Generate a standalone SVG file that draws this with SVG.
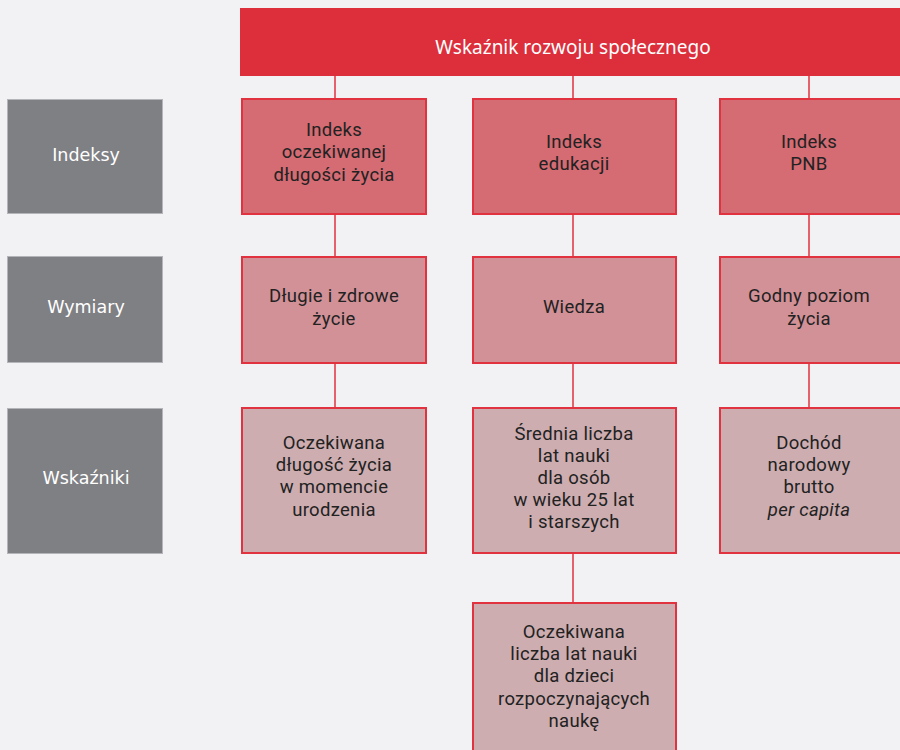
<svg xmlns="http://www.w3.org/2000/svg" width="900" height="750" viewBox="0 0 900 750">
<style>
.bg{fill:#f2f2f4}
.cat rect{fill:#7f8084;stroke:#b4b5b8;stroke-width:1}
.cat text{fill:#ffffff;font-family:"DejaVu Sans",Verdana,sans-serif;font-size:17.5px;text-anchor:middle}
.r1 rect{fill:#d56b73;stroke:#e0323f;stroke-width:2}
.r2 rect{fill:#d29197;stroke:#e0323f;stroke-width:2}
.r3 rect{fill:#cdadb0;stroke:#e0323f;stroke-width:2}
.node text{fill:#222222;font-family:Roboto,"Noto Sans",sans-serif;font-size:18.5px;text-anchor:middle;letter-spacing:0.3px}
#connectors line{stroke:#e0323f;stroke-width:1.5}
</style>
<rect class="bg" x="0" y="0" width="900" height="750"/>
<g id="banner">
<rect x="240" y="8" width="662" height="68" fill="#dd2e3b"/>
<text x="573" y="54" fill="#ffffff" font-family="'Noto Sans','Open Sans',sans-serif" font-size="19" text-anchor="middle">Wskaźnik rozwoju społecznego</text>
</g>
<g id="connectors">
<line x1="335" y1="76" x2="335" y2="99"/>
<line x1="573" y1="76" x2="573" y2="99"/>
<line x1="809" y1="76" x2="809" y2="99"/>
<line x1="335" y1="214" x2="335" y2="257"/>
<line x1="573" y1="214" x2="573" y2="257"/>
<line x1="809" y1="214" x2="809" y2="257"/>
<line x1="335" y1="363" x2="335" y2="408"/>
<line x1="573" y1="363" x2="573" y2="408"/>
<line x1="809" y1="363" x2="809" y2="408"/>
<line x1="573" y1="553" x2="573" y2="603"/>
</g>
<g id="cat-indeksy" class="cat"><rect x="7.5" y="99.5" width="155" height="114"/><text x="86" y="161">Indeksy</text></g>
<g id="cat-wymiary" class="cat"><rect x="7.5" y="256.5" width="155" height="106"/><text x="86" y="313">Wymiary</text></g>
<g id="cat-wskazniki" class="cat"><rect x="7.5" y="408.5" width="155" height="145"/><text x="86" y="484">Wskaźniki</text></g>

<g id="n-indeks-ocz" class="node r1"><rect x="242" y="99" width="184" height="115"/>
<text x="334"><tspan x="334" y="136">Indeks</tspan><tspan x="334" y="158">oczekiwanej</tspan><tspan x="334" y="181">długości życia</tspan></text></g>
<g id="n-indeks-edu" class="node r1"><rect x="473" y="99" width="203" height="115"/>
<text x="574"><tspan x="574" y="148">Indeks</tspan><tspan x="574" y="170">edukacji</tspan></text></g>
<g id="n-indeks-pnb" class="node r1"><rect x="720" y="99" width="190" height="115"/>
<text x="809"><tspan x="809" y="148">Indeks</tspan><tspan x="809" y="170">PNB</tspan></text></g>

<g id="n-dlugie" class="node r2"><rect x="242" y="257" width="184" height="106"/>
<text x="334"><tspan x="334" y="302">Długie i zdrowe</tspan><tspan x="334" y="325">życie</tspan></text></g>
<g id="n-wiedza" class="node r2"><rect x="473" y="257" width="203" height="106"/>
<text x="574" y="313">Wiedza</text></g>
<g id="n-godny" class="node r2"><rect x="720" y="257" width="190" height="106"/>
<text x="809"><tspan x="809" y="302">Godny poziom</tspan><tspan x="809" y="325">życia</tspan></text></g>

<g id="n-oczekiwana" class="node r3"><rect x="242" y="408" width="184" height="145"/>
<text x="334"><tspan x="334" y="449">Oczekiwana</tspan><tspan x="334" y="471">długość życia</tspan><tspan x="334" y="493">w momencie</tspan><tspan x="334" y="516">urodzenia</tspan></text></g>
<g id="n-srednia" class="node r3"><rect x="473" y="408" width="203" height="145"/>
<text x="574"><tspan x="574" y="440">Średnia liczba</tspan><tspan x="574" y="462">lat nauki</tspan><tspan x="574" y="484">dla osób</tspan><tspan x="574" y="506">w wieku 25 lat</tspan><tspan x="574" y="528">i starszych</tspan></text></g>
<g id="n-dochod" class="node r3"><rect x="720" y="408" width="190" height="145"/>
<text x="809"><tspan x="809" y="449">Dochód</tspan><tspan x="809" y="471">narodowy</tspan><tspan x="809" y="493">brutto</tspan><tspan x="809" y="516" font-style="italic">per capita</tspan></text></g>

<g id="n-oczekiwana-liczba" class="node r3"><rect x="473" y="603" width="203" height="160"/>
<text x="574"><tspan x="574" y="638">Oczekiwana</tspan><tspan x="574" y="660">liczba lat nauki</tspan><tspan x="574" y="682">dla dzieci</tspan><tspan x="574" y="705">rozpoczynających</tspan><tspan x="574" y="727">naukę</tspan></text></g>
</svg>
